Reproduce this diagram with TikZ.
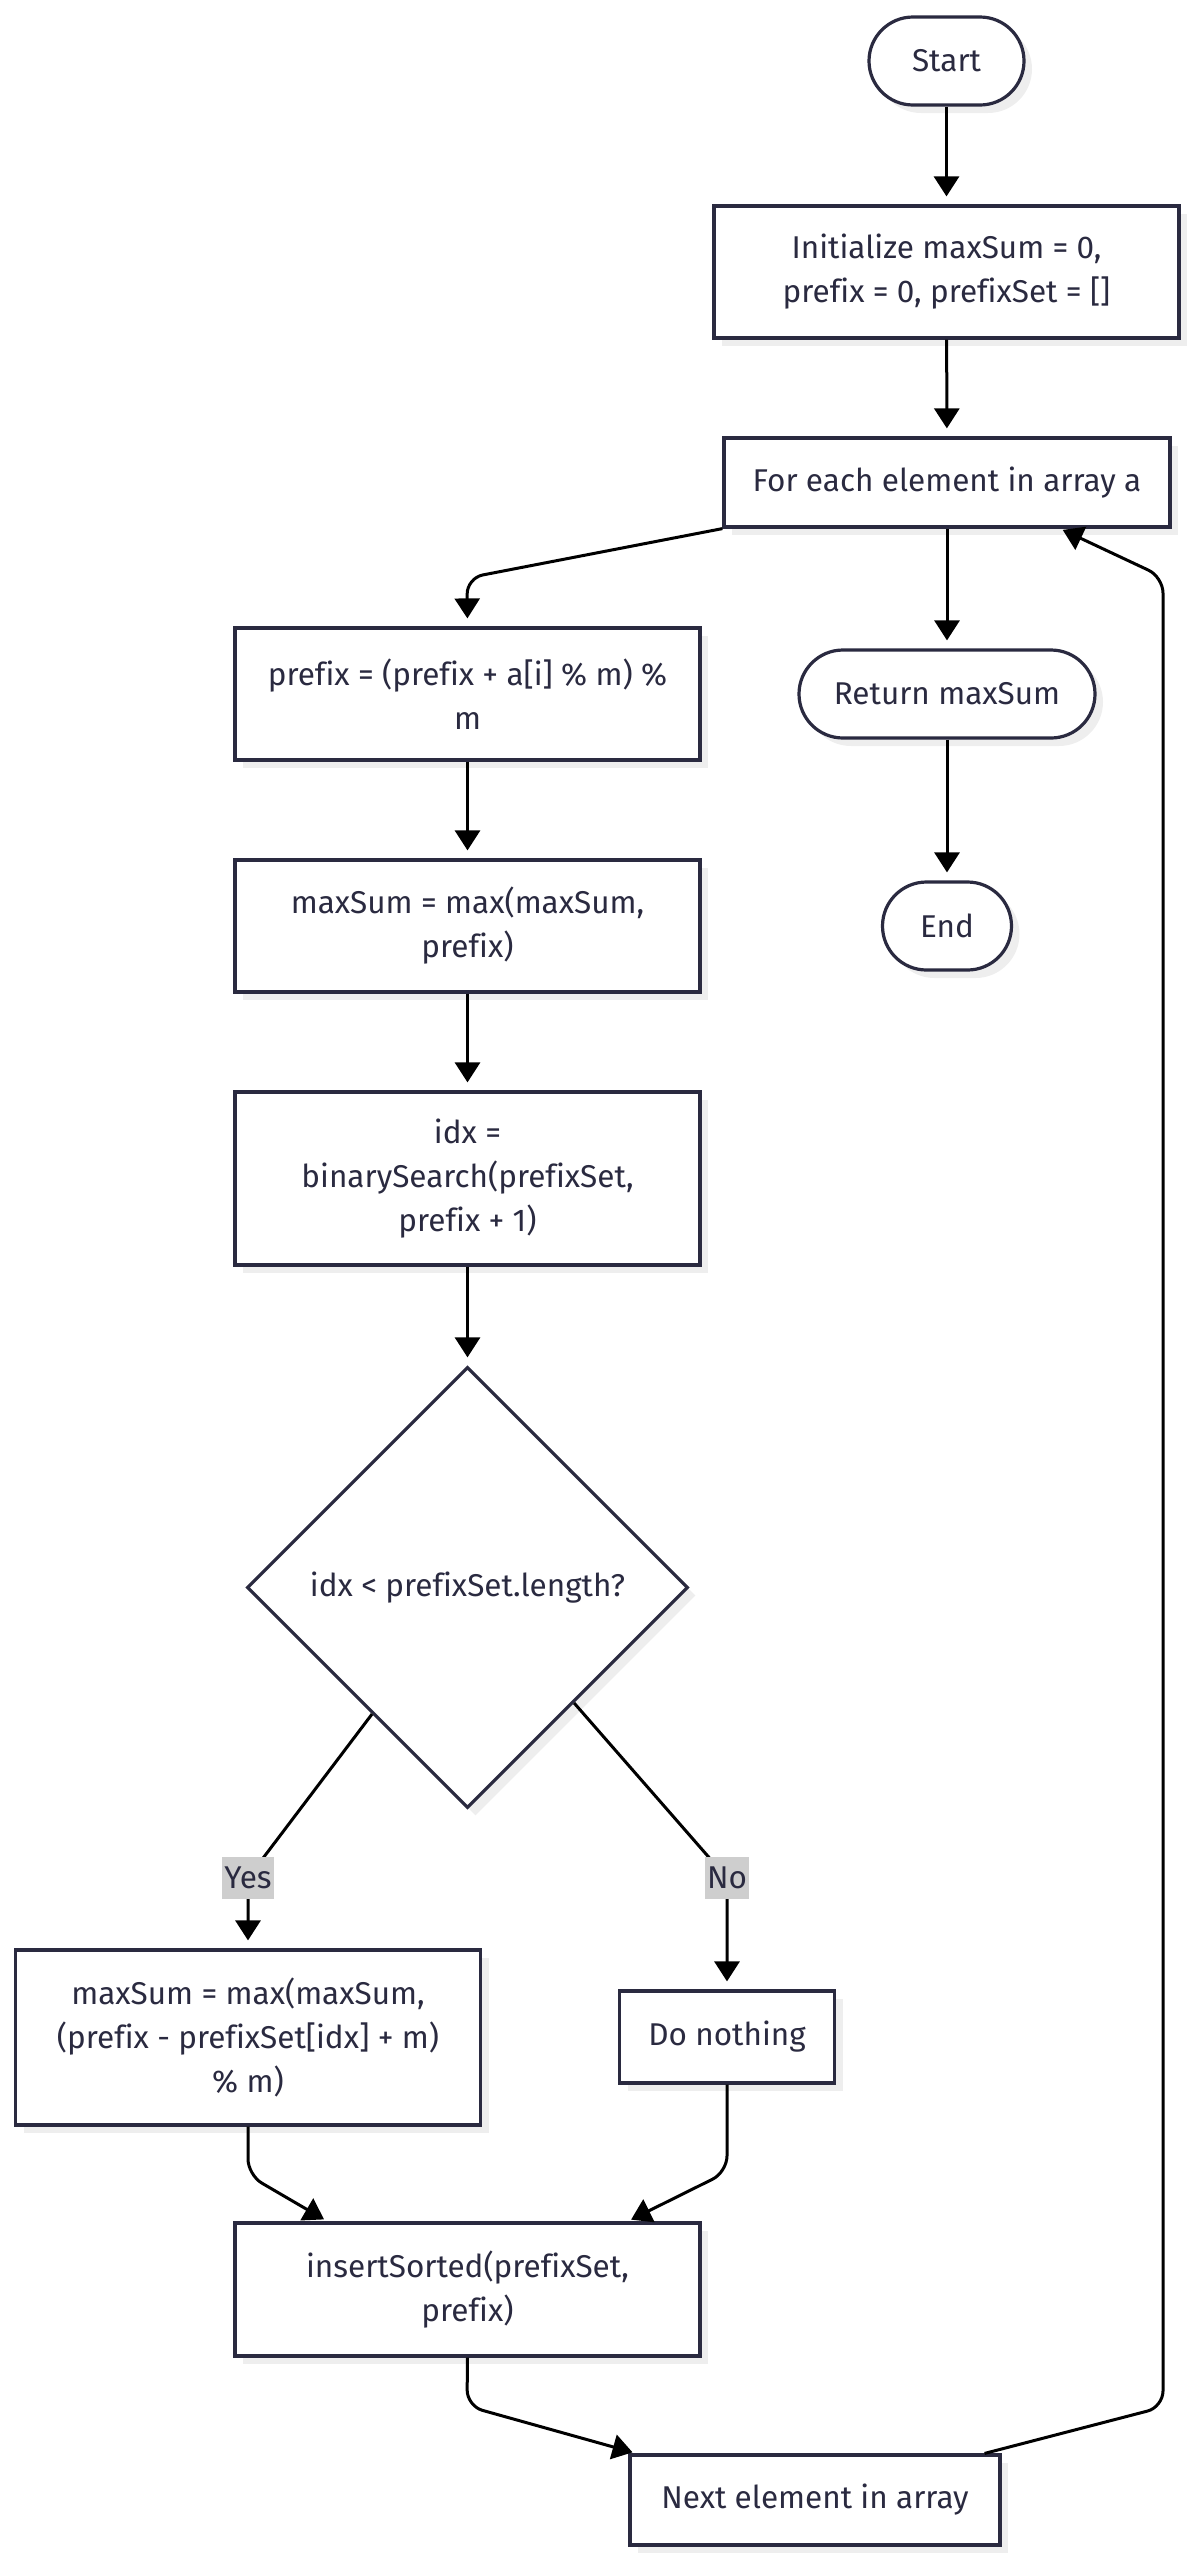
\documentclass[tikz,border=0pt]{standalone}
\usepackage{fontspec}
\setmainfont{Fira Sans}[Ligatures={NoCommon}]
\usetikzlibrary{arrows.meta,shapes.geometric,shadows,calc}

\definecolor{ink}{RGB}{42,42,64}
\definecolor{shade}{RGB}{238,238,238}
\definecolor{tagbg}{RGB}{206,206,206}

\begin{document}
\begin{tikzpicture}[x=1pt,y=-1pt,
  font=\fontsize{31.5}{44}\selectfont,
  base/.style={draw=ink, line width=3.2pt, fill=white, text=ink, align=center,
    inner sep=0pt,
    drop shadow={shadow xshift=8pt, shadow yshift=-8pt, fill=shade, opacity=1}},
  proc/.style={base, rectangle},
  term/.style={base, rectangle, rounded corners=44pt},
  decide/.style={base, diamond, aspect=1},
  arr/.style={draw=black, line width=3pt, rounded corners=16pt,
    -{Triangle[length=20pt,width=25pt]}},
  tag/.style={fill=tagbg, text=ink, inner xsep=2pt, inner ysep=0pt,
    minimum height=42pt}
]
\useasboundingbox (0,0) rectangle (1195,2562);

% right column
\node[term, minimum width=155pt, minimum height=88pt] (start) at (946.5,61) {Start};
\node[proc, minimum width=465pt, minimum height=132pt] (init) at (946.5,272) {Initialize maxSum = 0,\\ prefix = 0, prefixSet = []};
\node[proc, minimum width=446pt, minimum height=89pt] (foreach) at (947,482.5) {For each element in array a};
\node[term, minimum width=296pt, minimum height=88pt] (ret) at (947,694) {Return maxSum};
\node[term, minimum width=129pt, minimum height=88pt] (end) at (947,926) {End};

% loop body
\node[proc, minimum width=465pt, minimum height=132pt] (pre) at (467.5,694) {prefix = (prefix + a[i] \% m) \%\\ m};
\node[proc, minimum width=465pt, minimum height=132pt] (best) at (467.5,926) {maxSum = max(maxSum,\\ prefix)};
\node[proc, minimum width=465pt, minimum height=173pt] (idx) at (467.5,1178.5) {idx =\\ binarySearch(prefixSet,\\ prefix + 1)};
\node[decide, minimum width=441pt, minimum height=441pt] (dec) at (467.5,1587.5) {idx < prefixSet.length?};
\node[proc, minimum width=465pt, minimum height=175pt] (upd) at (248,2037.5) {maxSum = max(maxSum,\\ (prefix - prefixSet[idx] + m)\\ \% m)};
\node[proc, minimum width=215pt, minimum height=92pt] (nop) at (727,2037) {Do nothing};
\node[proc, minimum width=465pt, minimum height=133pt] (ins) at (467.5,2289.5) {insertSorted(prefixSet,\\ prefix)};
\node[proc, minimum width=370pt, minimum height=90pt] (next) at (815,2500) {Next element in array};

% bend points of the connectors
\coordinate (b1) at (467,578);
\coordinate (b2) at (248,2175);
\coordinate (b3) at (727,2172);
\coordinate (b4) at (467,2406);
\coordinate (b5) at (1163,2407);
\coordinate (b6) at (1163,577);

% connectors
\draw[arr, shorten >=8pt] (start) -- (init);
\draw[arr, shorten >=8pt] (init) -- (foreach);
\draw[arr, shorten >=8pt] (foreach.south west) -- (b1) -- (pre.north);
\draw[arr, shorten >=8pt] (foreach) -- (ret);
\draw[arr, shorten >=8pt] (ret) -- (end);
\draw[arr, shorten >=8pt] (pre) -- (best);
\draw[arr, shorten >=8pt] (best) -- (idx);
\draw[arr, shorten >=8pt] (idx) -- (dec);
\draw[arr, shorten >=8pt] ($(dec.west)!0.57!(dec.south)$) -- (248,1878) -- (upd.north);
\draw[arr, shorten >=8pt] ($(dec.east)!0.52!(dec.south)$) -- (727,1878) -- (nop.north);
\draw[arr, shorten >=4pt] (upd.south) -- (b2) -- ([xshift=-140pt]ins.north);
\draw[arr, shorten >=4pt] (nop.south) -- (b3) -- ([xshift=160pt]ins.north);
\draw[arr, shorten >=4pt] (ins.south) -- (b4) -- ([xshift=8pt]next.north west);
\draw[arr, shorten >=3pt] ([xshift=-17pt]next.north east) -- (b5) -- (b6) -- ([xshift=113pt]foreach.south);

% branch labels
\node[tag] (yes) at (248,1878) {Yes};
\node[tag] (no) at (727,1878) {No};
\end{tikzpicture}
\end{document}
